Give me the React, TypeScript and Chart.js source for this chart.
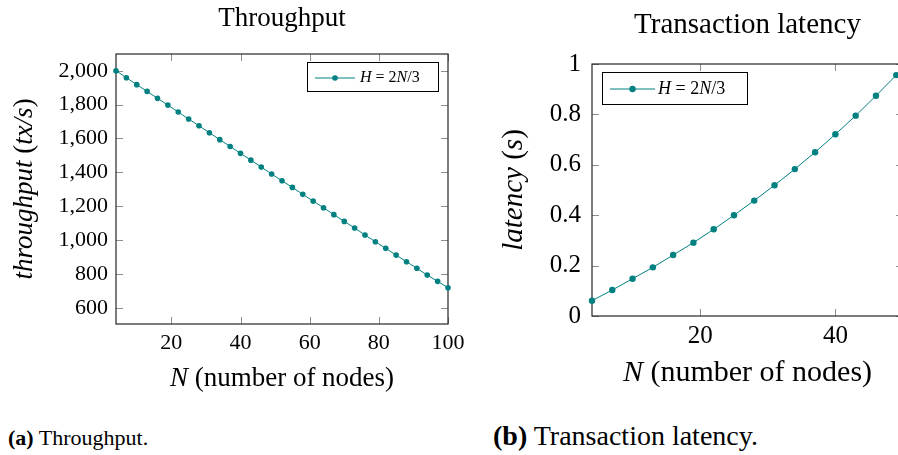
import React, { useEffect, useRef } from 'react';
import { Chart, registerables } from 'chart.js';

Chart.register(...registerables);

const FONT = '"Liberation Serif", "DejaVu Serif", serif';
const TEAL = '#008080';

// ---- data ----
const throughputNodes = [4, 7, 10, 13, 16, 19, 22, 25, 28, 31, 34, 37, 40, 43, 46, 49, 52, 55, 58, 61, 64, 67, 70, 73, 76, 79, 82, 85, 88, 91, 94, 97, 100];
const throughputValues = [2000, 1959, 1918, 1878, 1837, 1797, 1756, 1715, 1675, 1634, 1593, 1553, 1512, 1472, 1431, 1390, 1350, 1311, 1270, 1230, 1191, 1150, 1110, 1071, 1030, 990, 951, 911, 872, 833, 793, 756, 718];
const latencyNodes = [4, 7, 10, 13, 16, 19, 22, 25, 28, 31, 34, 37, 40, 43, 46, 49];
const latencyValues = [0.061, 0.103, 0.148, 0.193, 0.242, 0.291, 0.344, 0.4, 0.458, 0.519, 0.583, 0.65, 0.721, 0.795, 0.874, 0.956];
const throughputXTicks = [20, 40, 60, 80, 100];
const throughputYTicks = [600, 800, 1000, 1200, 1400, 1600, 1800, 2000];
const latencyXTicks = [20, 40];
const latencyYTicks = [0, 0.2, 0.4, 0.6, 0.8, 1];
const seriesLabel = 'H = 2N/3';
const throughputTitle = 'Throughput';
const latencyTitle = 'Transaction latency';
const xAxisTitle = [{ text: 'N', italic: true }, { text: ' (number of nodes)' }];
const throughputAxisTitle = [{ text: 'throughput', italic: true }, { text: ' (' }, { text: 'tx/s', italic: true }, { text: ')' }];
const latencyAxisTitle = [{ text: 'latency', italic: true }, { text: ' (' }, { text: 's', italic: true }, { text: ')' }];

type Run = { text: string; italic?: boolean; bold?: boolean };

function toRuns(label: string): Run[] {
  const runs: Run[] = [];
  for (const ch of label) {
    const italic = /[A-Za-z]/.test(ch);
    const last = runs[runs.length - 1];
    if (last && !!last.italic === italic) last.text += ch;
    else runs.push({ text: ch, italic });
  }
  return runs;
}

function drawRuns(ctx: CanvasRenderingContext2D, runs: Run[], size: number, x: number, y: number, align: 'center' | 'left') {
  const fonts = runs.map((r) => `${r.italic ? 'italic ' : ''}${r.bold ? 'bold ' : ''}${size}px ${FONT}`);
  const widths = runs.map((r, i) => {
    ctx.font = fonts[i];
    return ctx.measureText(r.text).width;
  });
  const total = widths.reduce((a, b) => a + b, 0);
  let cx = align === 'center' ? x - total / 2 : x;
  ctx.textAlign = 'left';
  ctx.textBaseline = 'alphabetic';
  ctx.fillStyle = '#000';
  runs.forEach((r, i) => {
    ctx.font = fonts[i];
    ctx.fillText(r.text, cx, y);
    cx += widths[i];
  });
}

type Cfg = {
  title: string;
  titleSize: number;
  titleBaseline: number;
  xTitle: Run[];
  xTitleSize: number;
  xTitleBaseline: number;
  yTitle: Run[];
  yTitleSize: number;
  yTitleX: number;
  tickLen: number;
  legend: { left: number; top: number; w: number; h: number; lineFrom: number; lineTo: number; lineY: number; textX: number; textY: number; size: number };
};

function makePgfPlugin(cfg: Cfg) {
  return {
    id: 'pgf',
    beforeDatasetsDraw(chart: any) {
      const { ctx, chartArea: a, scales } = chart;
      const xs = scales.x;
      const ys = scales.y;
      ctx.save();
      ctx.strokeStyle = '#8f8f8f';
      ctx.lineWidth = 1;
      ctx.beginPath();
      xs.ticks.forEach((t: any) => {
        const p = Math.round(xs.getPixelForValue(t.value)) + 0.5;
        ctx.moveTo(p, a.bottom);
        ctx.lineTo(p, a.bottom - cfg.tickLen);
        ctx.moveTo(p, a.top);
        ctx.lineTo(p, a.top + cfg.tickLen);
      });
      ys.ticks.forEach((t: any) => {
        const p = Math.round(ys.getPixelForValue(t.value)) + 0.5;
        ctx.moveTo(a.left, p);
        ctx.lineTo(a.left + cfg.tickLen, p);
        ctx.moveTo(a.right, p);
        ctx.lineTo(a.right - cfg.tickLen, p);
      });
      ctx.stroke();
      ctx.strokeStyle = '#262626';
      ctx.lineWidth = 1.2;
      ctx.strokeRect(a.left, a.top, a.right - a.left, a.bottom - a.top);
      ctx.restore();
    },
    afterDraw(chart: any) {
      const { ctx, chartArea: a } = chart;
      const ds = chart.data.datasets[0];
      ctx.save();
      const cx = (a.left + a.right) / 2;
      drawRuns(ctx, [{ text: cfg.title }], cfg.titleSize, cx, cfg.titleBaseline, 'center');
      drawRuns(ctx, cfg.xTitle, cfg.xTitleSize, cx, cfg.xTitleBaseline, 'center');
      ctx.save();
      ctx.translate(cfg.yTitleX, (a.top + a.bottom) / 2);
      ctx.rotate(-Math.PI / 2);
      drawRuns(ctx, cfg.yTitle, cfg.yTitleSize, 0, 0, 'center');
      ctx.restore();
      const L = cfg.legend;
      ctx.fillStyle = '#fff';
      ctx.fillRect(L.left, L.top, L.w, L.h);
      ctx.strokeStyle = '#000';
      ctx.lineWidth = 1;
      ctx.strokeRect(L.left + 0.5, L.top + 0.5, L.w, L.h);
      ctx.strokeStyle = ds.borderColor;
      ctx.lineWidth = ds.borderWidth;
      ctx.beginPath();
      ctx.moveTo(L.lineFrom, L.lineY);
      ctx.lineTo(L.lineTo, L.lineY);
      ctx.stroke();
      ctx.fillStyle = ds.backgroundColor;
      ctx.beginPath();
      ctx.arc((L.lineFrom + L.lineTo) / 2, L.lineY, ds.pointRadius, 0, Math.PI * 2);
      ctx.fill();
      drawRuns(ctx, toRuns(ds.label), L.size, L.textX, L.textY, 'left');
      ctx.restore();
    },
  };
}

type Props = {
  left: number;
  width: number;
  height: number;
  xs: number[];
  ys: number[];
  xTicks: number[];
  yTicks: number[];
  xMin: number;
  xMax: number;
  yMin: number;
  yMax: number;
  tickSize: number;
  xTickPad: number;
  yTickPad: number;
  pad: { left: number; right: number; top: number; bottom: number };
  yWidth: number;
  xHeight: number;
  pointRadius: number;
  cfg: Cfg;
};

const fmt = (v: any) => Number(v).toLocaleString('en-US', { maximumFractionDigits: 2 });

function PgfChart(p: Props) {
  const ref = useRef<HTMLCanvasElement>(null);
  useEffect(() => {
    const zeroPad = (s: any) => {
      s.paddingLeft = 0;
      s.paddingRight = 0;
      s.paddingTop = 0;
      s.paddingBottom = 0;
    };
    const chart = new Chart(ref.current as HTMLCanvasElement, {
      type: 'line',
      data: {
        datasets: [
          {
            label: seriesLabel,
            data: p.xs.map((x, i) => ({ x, y: p.ys[i] })),
            borderColor: TEAL,
            backgroundColor: TEAL,
            borderWidth: 1,
            pointRadius: p.pointRadius,
            pointBorderWidth: 0,
            pointBackgroundColor: TEAL,
            tension: 0,
            clip: false as any,
          } as any,
        ],
      },
      options: {
        animation: false,
        responsive: false,
        maintainAspectRatio: false,
        layout: { padding: p.pad },
        plugins: { legend: { display: false }, title: { display: false }, tooltip: { enabled: false } },
        scales: {
          x: {
            type: 'linear',
            min: p.xMin,
            max: p.xMax,
            grid: { display: false, drawTicks: false },
            border: { display: false },
            ticks: {
              padding: p.xTickPad,
              color: '#000',
              maxRotation: 0,
              autoSkip: false,
              callback: fmt,
              font: { family: FONT, size: p.tickSize },
            },
            afterBuildTicks: (s: any) => {
              s.ticks = p.xTicks.map((v) => ({ value: v }));
            },
            afterFit: (s: any) => {
              s.height = p.xHeight;
              zeroPad(s);
            },
          },
          y: {
            type: 'linear',
            min: p.yMin,
            max: p.yMax,
            grid: { display: false, drawTicks: false },
            border: { display: false },
            ticks: {
              padding: p.yTickPad,
              color: '#000',
              autoSkip: false,
              callback: fmt,
              font: { family: FONT, size: p.tickSize },
            },
            afterBuildTicks: (s: any) => {
              s.ticks = p.yTicks.map((v) => ({ value: v }));
            },
            afterFit: (s: any) => {
              s.width = p.yWidth;
              zeroPad(s);
            },
          },
        },
      },
      plugins: [makePgfPlugin(p.cfg)],
    } as any);
    return () => chart.destroy();
  }, []);
  return (
    <canvas
      ref={ref}
      width={p.width}
      height={p.height}
      style={{ position: 'absolute', left: p.left, top: 0, width: p.width, height: p.height }}
    />
  );
}

export default function App() {
  return (
    <div style={{ position: 'fixed', left: 0, top: 0, width: 898, height: 455, overflow: 'hidden', background: '#fff', fontFamily: FONT }}>
      <PgfChart
        left={0}
        width={470}
        height={400}
        xs={throughputNodes}
        ys={throughputValues}
        xTicks={throughputXTicks}
        yTicks={throughputYTicks}
        xMin={4}
        xMax={100}
        yMin={504}
        yMax={2099}
        tickSize={22}
        xTickPad={6}
        yTickPad={8}
        pad={{ left: 0, right: 22, top: 54, bottom: 0 }}
        yWidth={116}
        xHeight={76}
        pointRadius={2.8}
        cfg={{
          title: throughputTitle,
          titleSize: 27,
          titleBaseline: 26,
          xTitle: xAxisTitle,
          xTitleSize: 27,
          xTitleBaseline: 386,
          yTitle: throughputAxisTitle,
          yTitleSize: 27,
          yTitleX: 32,
          tickLen: 7,
          legend: { left: 307, top: 62, w: 131, h: 29, lineFrom: 315, lineTo: 355, lineY: 78, textX: 360, textY: 82, size: 16 },
        }}
      />
      <PgfChart
        left={480}
        width={440}
        height={400}
        xs={latencyNodes}
        ys={latencyValues}
        xTicks={latencyXTicks}
        yTicks={latencyYTicks}
        xMin={4}
        xMax={50}
        yMin={0}
        yMax={1}
        tickSize={25}
        xTickPad={5}
        yTickPad={11}
        pad={{ left: 0, right: 17, top: 64, bottom: 0 }}
        yWidth={112}
        xHeight={84}
        pointRadius={3.2}
        cfg={{
          title: latencyTitle,
          titleSize: 29,
          titleBaseline: 33,
          xTitle: xAxisTitle,
          xTitleSize: 30,
          xTitleBaseline: 381,
          yTitle: latencyAxisTitle,
          yTitleSize: 29,
          yTitleX: 42,
          tickLen: 7,
          legend: { left: 122, top: 72, w: 145, h: 32, lineFrom: 130, lineTo: 175, lineY: 89, textX: 178, textY: 94, size: 18 },
        }}
      />
      <div style={{ position: 'absolute', left: 8, top: 427, fontSize: 22, lineHeight: '21px', whiteSpace: 'nowrap', color: '#000' }}>
        <b>(a)</b> Throughput.
      </div>
      <div style={{ position: 'absolute', left: 493, top: 425, fontSize: 28, lineHeight: '21px', whiteSpace: 'nowrap', color: '#000' }}>
        <b>(b)</b> Transaction latency.
      </div>
    </div>
  );
}
